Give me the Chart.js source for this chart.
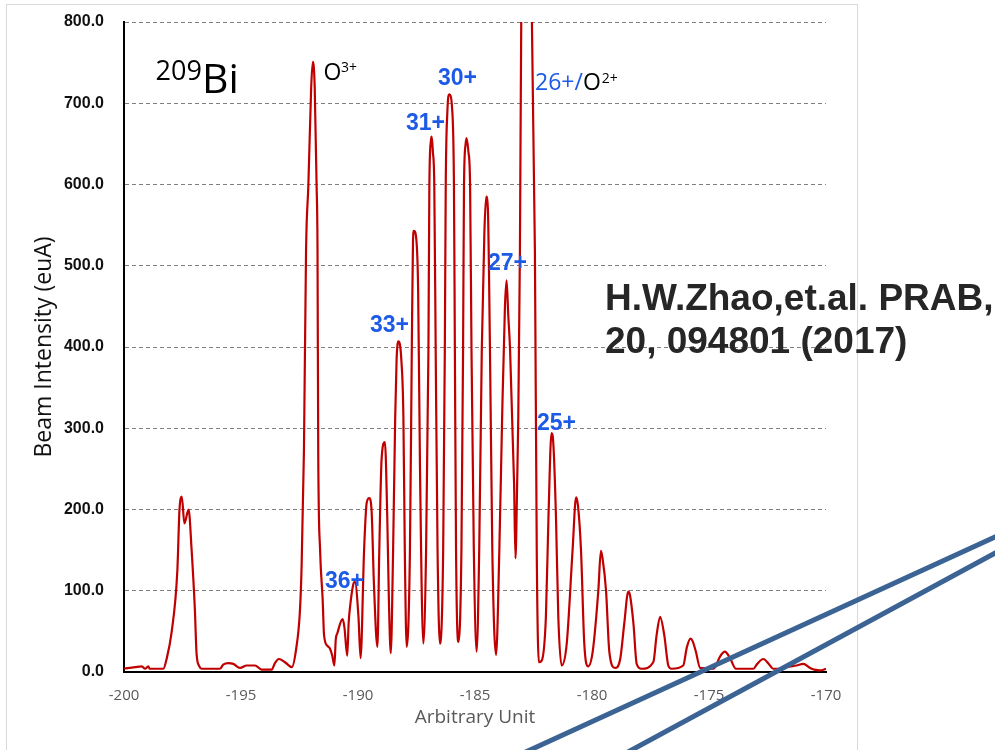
<!DOCTYPE html>
<html>
<head>
<meta charset="utf-8">
<script src="https://cdn.jsdelivr.net/npm/chart.js@4.4.1/dist/chart.umd.min.js"></script>
<style>
  html, body { margin: 0; padding: 0; background: #fff; }
  #wrap { width: 995px; height: 750px; }
</style>
</head>
<body>
<div id="wrap"><canvas id="chart" width="995" height="750"></canvas></div>
<script>
// 209Bi charge state spectrum (x = arbitrary unit, y = euA)
const positions = [
  -200.0, -199.53, -199.24, -199.1, -198.96, -198.9, -198.32, -198.18, -197.96, -197.72,
  -197.63, -197.53, -197.42, -197.24, -197.11, -196.97, -196.9, -196.78, -196.68, -195.9,
  -195.76, -195.54, -195.33, -195.04, -194.76, -194.4, -194.12, -193.69, -193.55, -193.38,
  -193.12, -192.83, -192.65, -192.48, -192.41, -192.31, -192.22, -192.12, -192.0, -191.93,
  -191.85, -191.77, -191.73, -191.7, -191.62, -191.51, -191.45, -191.3, -191.2, -191.1,
  -191.01, -190.95, -190.88, -190.66, -190.58, -190.46, -190.4, -190.34, -190.2, -190.13,
  -189.98, -189.89, -189.74, -189.63, -189.52, -189.42, -189.32, -189.17, -189.09, -188.99,
  -188.85, -188.75, -188.68, -188.6, -188.5, -188.41, -188.35, -188.27, -188.15, -188.06,
  -188.0, -187.92, -187.78, -187.7, -187.65, -187.61, -187.5, -187.43, -187.35, -187.21,
  -187.09, -186.99, -186.95, -186.88, -186.85, -186.8, -186.74, -186.68, -186.6, -186.5,
  -186.36, -186.29, -186.25, -186.18, -186.1, -185.97, -185.9, -185.86, -185.81, -185.71,
  -185.58, -185.51, -185.47, -185.4, -185.36, -185.28, -185.21, -185.15, -185.05, -184.93,
  -184.82, -184.71, -184.6, -184.52, -184.45, -184.36, -184.26, -184.1, -183.96, -183.84,
  -183.72, -183.65, -183.58, -183.5, -183.33, -183.27, -183.2, -183.15, -183.08, -183.02,
  -182.8, -182.58, -182.44, -182.36, -182.27, -182.15, -181.97, -181.86, -181.73, -181.65,
  -181.54, -181.44, -181.3, -181.08, -180.83, -180.68, -180.6, -180.47, -180.33, -180.16,
  -179.97, -179.73, -179.62, -179.55, -179.4, -179.26, -179.02, -178.8, -178.62, -178.45,
  -178.38, -178.23, -178.09, -177.88, -177.38, -177.24, -177.09, -176.91, -176.74, -176.6,
  -176.1, -175.95, -175.79, -175.7, -175.56, -175.38, -174.8, -174.53, -174.32, -174.1,
  -173.85, -173.1, -172.94, -172.68, -172.42, -172.26, -171.82, -171.68, -171.26, -170.97,
  -170.68, -170.5, -170.24, -170.0
];
const intensities = [
  4, 6, 7, 4, 7, 4, 4, 16, 50, 125,
  199, 216, 183, 200, 150, 76, 23, 7, 4, 4,
  9, 11, 10, 5, 8, 8, 3, 3, 11, 16,
  12, 6, 27, 76, 130, 273, 519, 600, 720, 751,
  720, 600, 519, 273, 150, 89, 45, 32, 29, 20,
  8, 40, 48, 65, 55, 20, 60, 80, 108, 111,
  68, 17, 150, 208, 214, 199, 109, 31, 150, 263,
  283, 191, 89, 23, 150, 314, 385, 407, 385, 314,
  150, 31, 150, 400, 530, 543, 530, 470, 250, 35,
  150, 396, 600, 655, 659, 640, 600, 396, 150, 35,
  150, 396, 600, 690, 711, 690, 600, 396, 150, 37,
  150, 396, 600, 650, 657, 640, 600, 396, 150, 25,
  150, 396, 540, 585, 570, 396, 150, 21, 150, 314,
  450, 482, 440, 396, 232, 140, 230, 314, 519, 820,
  1050, 820, 519, 144, 12, 14, 68, 191, 294, 280,
  191, 68, 8, 35, 150, 215, 205, 150, 35, 7,
  25, 100, 149, 140, 100, 25, 5, 15, 60, 99,
  95, 60, 10, 4, 12, 45, 68, 45, 8, 4,
  8, 30, 41, 38, 25, 5, 4, 19, 25, 17,
  4, 4, 10, 16, 9, 4, 4, 6, 8, 10,
  5, 3, 2, 4
];

const xTicks = [-200, -195, -190, -185, -180, -175, -170];
const yTicks = [0, 100, 200, 300, 400, 500, 600, 700, 800];

const chargeLabels = ['36+', '33+', '31+', '30+', '27+', '25+'];
// left / baseline of each charge label, in canvas pixels
const chargeLabelPos = [[325, 588], [370, 332], [406, 130], [438, 85], [488, 270], [537, 430]];

const citation = ['H.W.Zhao,et.al. PRAB,', '20, 094801 (2017)'];

const BLUE = '#1d5ae6';

function txt(c, s, x, y, font, color) {
  c.font = font;
  c.fillStyle = color;
  c.textAlign = 'left';
  c.textBaseline = 'alphabetic';
  c.fillText(s, x, y);
  return c.measureText(s).width;
}

const overlay = {
  id: 'overlay',
  beforeDraw(chart) {
    const c = chart.ctx;
    c.save();
    c.fillStyle = '#fff';
    c.fillRect(0, 0, chart.width, chart.height);
    c.strokeStyle = '#d9d9d9';
    c.lineWidth = 1;
    c.strokeRect(6.5, 4.5, 851, 800);
    c.restore();
  },
  afterDraw(chart) {
    const c = chart.ctx;
    c.save();
    // isotope
    txt(c, '209', 155.5, 79.5, '27px "Open Sans"', '#000');
    txt(c, 'Bi', 202, 92.7, '41px "Open Sans"', '#000');
    // O3+
    txt(c, 'O', 323.5, 80, '23px "Open Sans"', '#000');
    txt(c, '3+', 341, 71.7, '14px "Open Sans"', '#000');
    // 26+/O2+
    const w = txt(c, '26+/', 535, 90, '23px "Open Sans"', BLUE);
    const wo = txt(c, 'O', 535 + w, 90, '23px "Open Sans"', '#000');
    txt(c, '2+', 535 + w + wo + 1, 82.7, '14px "Open Sans"', '#000');
    // charge states
    chargeLabels.forEach((s, i) => {
      txt(c, s, chargeLabelPos[i][0], chargeLabelPos[i][1], 'bold 23px "Liberation Sans"', BLUE);
    });
    // reference
    txt(c, citation[0], 605, 309.5, 'bold 37px "Liberation Sans"', '#262626');
    txt(c, citation[1], 605, 352.5, 'bold 37px "Liberation Sans"', '#262626');
    // the two slanted strokes from the slide
    c.strokeStyle = '#3b6394';
    c.lineWidth = 5;
    c.beginPath();
    c.moveTo(520, 754.6); c.lineTo(1000, 534.7);
    c.moveTo(625, 753.6); c.lineTo(1000, 550.4);
    c.stroke();
    c.restore();
  }
};

new Chart(document.getElementById('chart').getContext('2d'), {
  type: 'line',
  data: {
    datasets: [{
      data: positions.map((x, i) => ({ x, y: intensities[i] })),
      borderColor: '#c00000',
      borderWidth: 2.2,
      pointRadius: 0,
      fill: false,
      cubicInterpolationMode: 'monotone',
    }],
  },
  options: {
    responsive: false,
    animation: false,
    devicePixelRatio: 1,
    layout: { padding: { left: 0, right: 169, top: 22, bottom: 0 } },
    plugins: { legend: { display: false }, tooltip: { enabled: false } },
    scales: {
      x: {
        type: 'linear',
        min: -200,
        max: -170,
        afterBuildTicks: s => { s.ticks = xTicks.map(v => ({ value: v })); },
        afterFit: s => { s.height = 78; },
        ticks: {
          color: '#595959',
          font: { family: 'Open Sans', size: 15 },
          padding: 15,
          maxRotation: 0,
          autoSkip: false,
        },
        grid: { display: false, drawTicks: false },
        border: { display: true, color: '#000', width: 2 },
        title: {
          display: true,
          text: 'Arbitrary Unit',
          color: '#595959',
          font: { family: 'Open Sans', size: 19 },
          padding: { top: 0, bottom: 21 },
        },
      },
      y: {
        min: 0,
        max: 800,
        afterBuildTicks: s => { s.ticks = yTicks.map(v => ({ value: v })); },
        // fixed axis width; drop the label overflow so the plot top sits at the layout padding
        afterFit: s => { s.width = 124; s.paddingTop = 0; s.paddingBottom = 0; },
        ticks: {
          color: '#111',
          font: { family: 'Liberation Sans', size: 16, weight: 'bold' },
          padding: 20,
          callback: v => v.toFixed(1),
        },
        grid: { color: '#7f7f7f', lineWidth: 1, drawTicks: false },
        border: { display: true, color: '#000', width: 2, dash: [4, 3] },
        title: {
          display: true,
          text: 'Beam Intensity (euA)',
          color: '#111',
          font: { family: 'Open Sans', size: 23 },
          padding: { top: 31, bottom: 0 },
        },
      },
    },
  },
  plugins: [overlay],
});
</script>
</body>
</html>
